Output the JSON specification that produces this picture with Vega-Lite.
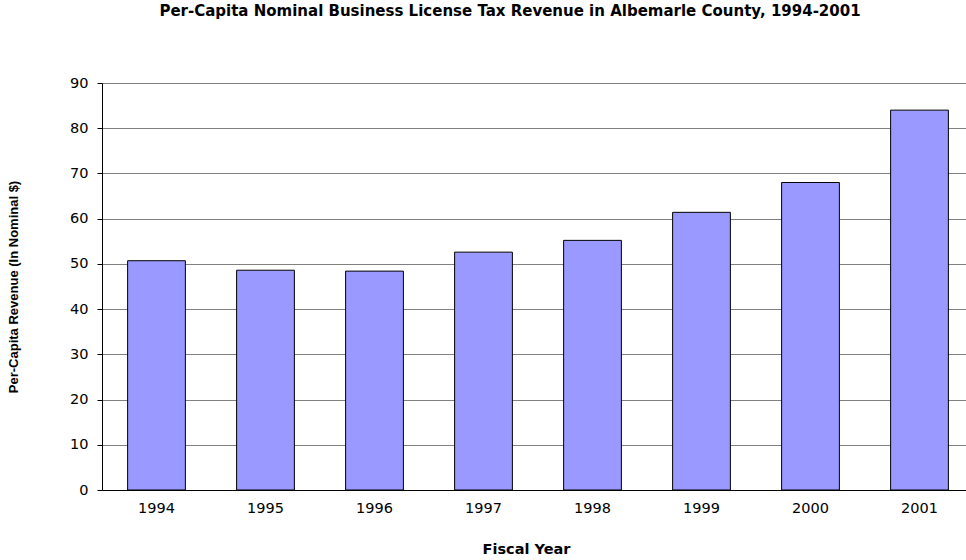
{
  "$schema": "https://vega.github.io/schema/vega-lite/v6.json",
  "autosize": {"type": "none"},
  "padding": {"left": 102, "top": 83, "right": 0, "bottom": 70},
  "width": 864,
  "height": 407,
  "background": "white",
  "title": {
    "text": "Per-Capita Nominal Business License Tax Revenue in Albemarle County, 1994-2001",
    "font": "DejaVu Sans",
    "fontSize": 15,
    "fontWeight": "bold",
    "color": "black",
    "anchor": "middle",
    "dx": -24,
    "offset": 56
  },
  "data": {
    "values": [
      {"year": "1994", "revenue": 50.7},
      {"year": "1995", "revenue": 48.6},
      {"year": "1996", "revenue": 48.4},
      {"year": "1997", "revenue": 52.6},
      {"year": "1998", "revenue": 55.2},
      {"year": "1999", "revenue": 61.4},
      {"year": "2000", "revenue": 68.0},
      {"year": "2001", "revenue": 84.0}
    ]
  },
  "config": {
    "view": {"stroke": null},
    "axis": {
      "labelFont": "DejaVu Sans",
      "labelFontSize": 14.5,
      "labelColor": "black",
      "titleFont": "DejaVu Sans",
      "titleFontSize": 14.5,
      "titleFontWeight": "bold",
      "titleColor": "black",
      "domainColor": "black",
      "tickColor": "black"
    }
  },
  "mark": {"type": "bar", "fill": "#9999FF", "stroke": "black", "strokeWidth": 1, "clip": false},
  "encoding": {
    "x": {
      "field": "year",
      "type": "ordinal",
      "scale": {"range": [0, 872], "paddingInner": 0.47, "paddingOuter": 0.235},
      "axis": {
        "title": "Fiscal Year",
        "labelAngle": 0,
        "ticks": false,
        "labelPadding": 11,
        "titleX": 424,
        "titleY": 63,
        "titleBaseline": "alphabetic",
        "domainWidth": 1
      }
    },
    "y": {
      "field": "revenue",
      "type": "quantitative",
      "scale": {"domain": [0, 90], "nice": false},
      "axis": {
        "title": "Per-Capita Revenue (In Nominal $)",
        "titleFont": "Liberation Sans",
        "titleFontSize": 13,
        "values": [0, 10, 20, 30, 40, 50, 60, 70, 80, 90],
        "tickSize": 5,
        "labelPadding": 9,
        "grid": true,
        "gridColor": "#808080",
        "gridWidth": 1,
        "titleX": -82,
        "titleBaseline": "bottom"
      }
    }
  }
}
